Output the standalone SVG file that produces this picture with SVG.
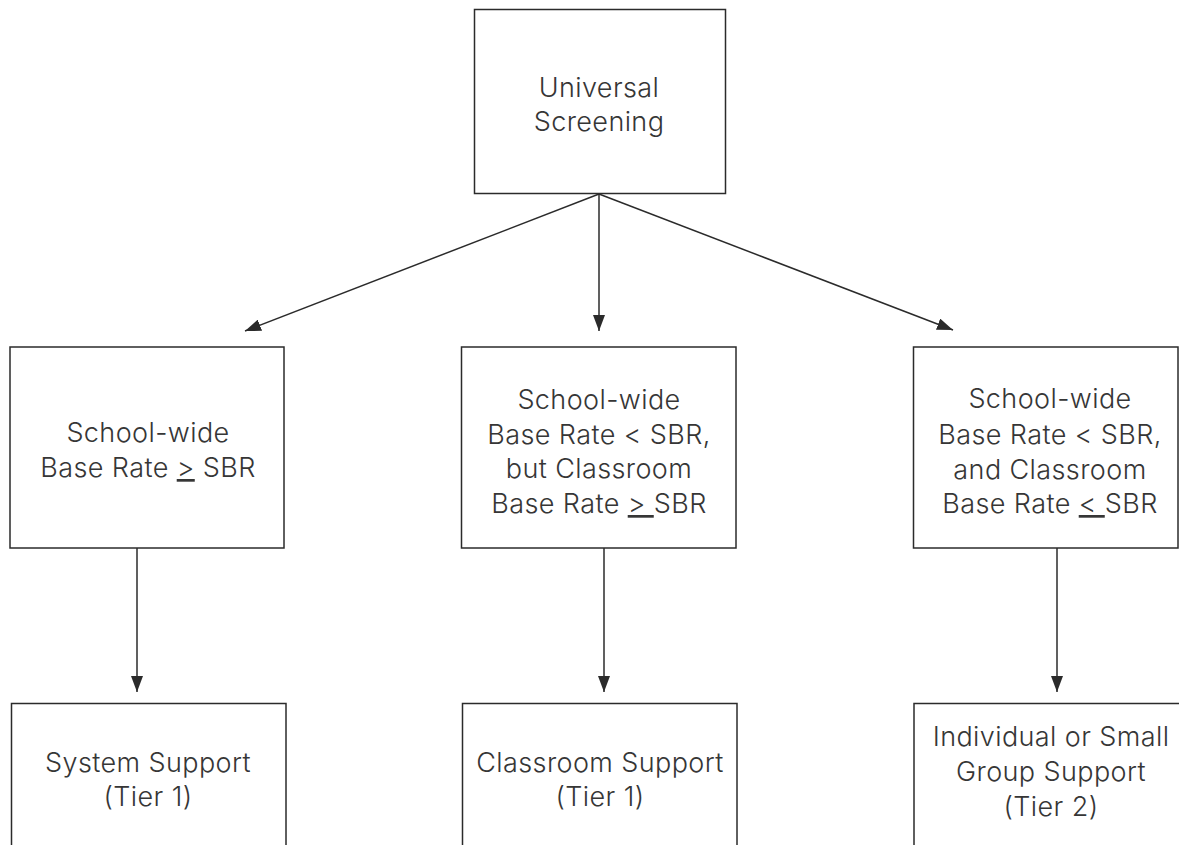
<svg xmlns="http://www.w3.org/2000/svg" width="1179" height="845" viewBox="0 0 1179 845">
<style>
  .box { fill: #ffffff; stroke: #2b2b2b; stroke-width: 1.5; }
  .lbl { font-family: Inter, "Open Sans", "Liberation Sans", sans-serif; font-weight: 300; font-size: 27px; fill: #363636; text-anchor: middle; letter-spacing: 0.4px; }
  .conn { stroke: #2b2b2b; stroke-width: 1.5; fill: none; }
  .ul { text-decoration: underline; }
</style>
<defs>
  <marker id="arr" markerUnits="userSpaceOnUse" markerWidth="16" markerHeight="12" refX="16" refY="6" orient="auto">
    <path d="M0,0 L16,6 L0,12 Z" fill="#2b2b2b"/>
  </marker>
</defs>
<rect width="1179" height="845" fill="#ffffff"/>

<g id="connectors">
  <line class="conn" x1="599" y1="194" x2="599" y2="331" marker-end="url(#arr)"/>
  <line class="conn" x1="599" y1="194" x2="245" y2="331" marker-end="url(#arr)"/>
  <line class="conn" x1="599" y1="194" x2="953" y2="330" marker-end="url(#arr)"/>
  <line class="conn" x1="137" y1="548" x2="137" y2="692" marker-end="url(#arr)"/>
  <line class="conn" x1="604" y1="548" x2="604" y2="692" marker-end="url(#arr)"/>
  <line class="conn" x1="1057" y1="548" x2="1057" y2="692" marker-end="url(#arr)"/>
</g>

<g id="universal-screening">
  <rect class="box" x="474.5" y="9.5" width="251" height="184"/>
  <text class="lbl" x="599" y="97">Universal</text>
  <text class="lbl" x="599" y="131">Screening</text>
</g>

<g id="schoolwide-high">
  <rect class="box" x="10" y="347" width="274" height="201"/>
  <text class="lbl" x="148" y="442">School-wide</text>
  <text class="lbl" x="148" y="477">Base Rate <tspan class="ul">&gt;</tspan> SBR</text>
</g>

<g id="classroom-high">
  <rect class="box" x="461.5" y="347" width="274.5" height="201"/>
  <text class="lbl" x="599" y="409">School-wide</text>
  <text class="lbl" x="599" y="444">Base Rate &lt; SBR,</text>
  <text class="lbl" x="599" y="478">but Classroom</text>
  <text class="lbl" x="599" y="513">Base Rate <tspan class="ul">&gt; </tspan>SBR</text>
</g>

<g id="classroom-low">
  <rect class="box" x="913.5" y="347" width="264.5" height="201"/>
  <text class="lbl" x="1050" y="408">School-wide</text>
  <text class="lbl" x="1050" y="444">Base Rate &lt; SBR,</text>
  <text class="lbl" x="1050" y="479">and Classroom</text>
  <text class="lbl" x="1050" y="513">Base Rate <tspan class="ul">&lt; </tspan>SBR</text>
</g>

<g id="system-support">
  <rect class="box" x="11.5" y="703.5" width="274.5" height="160"/>
  <text class="lbl" x="148" y="772">System Support</text>
  <text class="lbl" x="148" y="806">(Tier 1)</text>
</g>

<g id="classroom-support">
  <rect class="box" x="462.5" y="703.5" width="274.5" height="160"/>
  <text class="lbl" x="600" y="772">Classroom Support</text>
  <text class="lbl" x="600" y="806">(Tier 1)</text>
</g>

<g id="individual-support">
  <rect class="box" x="914" y="703.5" width="280" height="160"/>
  <text class="lbl" x="1051" y="746">Individual or Small</text>
  <text class="lbl" x="1051" y="781">Group Support</text>
  <text class="lbl" x="1051" y="816">(Tier 2)</text>
</g>
</svg>
